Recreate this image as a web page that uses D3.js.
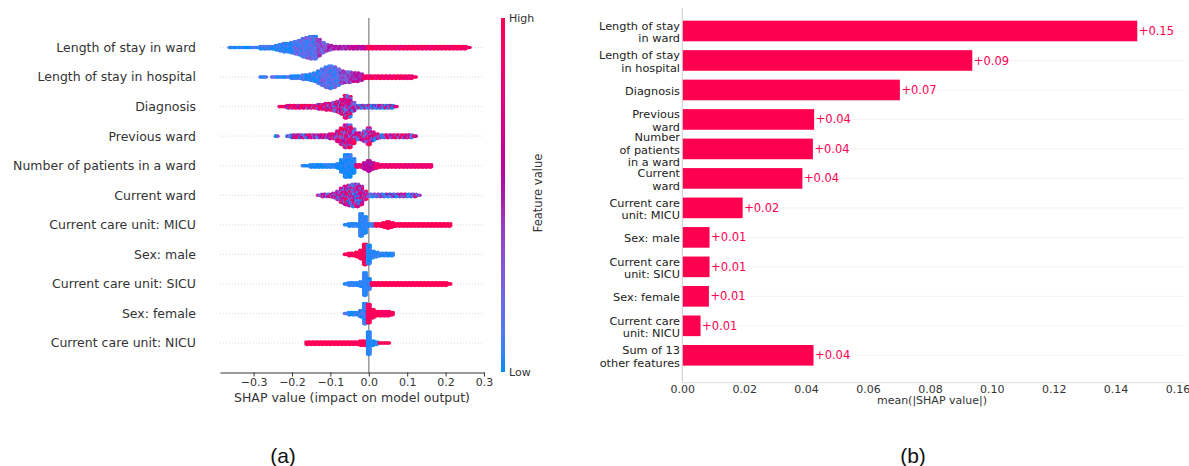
<!DOCTYPE html>
<html>
<head>
<meta charset="utf-8">
<script src="https://cdn.jsdelivr.net/npm/d3@7"></script>
<style>
  body { margin: 0; background: #fff; }
  text { font-family: "DejaVu Sans", sans-serif; }
</style>
</head>
<body>
<div id="chart"></div>
<script>
// ---- (a) beeswarm summary: features top to bottom
var features = ["Length of stay in ward", "Length of stay in hospital", "Diagnosis",
  "Previous ward", "Number of patients in a ward", "Current ward",
  "Current care unit: MICU", "Sex: male", "Current care unit: SICU",
  "Sex: female", "Current care unit: NICU"];

// SHAP values are binned at 0.01; each row lists how many points sit in each bin
var binStep = 0.01;
var binStart = [-0.36, -0.28, -0.23, -0.24, -0.17, -0.13, -0.06, -0.06, -0.06, -0.06, -0.16];
var binCounts = [
  [1,1,1,1,1,1,1,1, 2,2,2,2, 3,4,5,5,6,7,8,10,11,12,12, 9,6,4,3,2,
   2,2,2,2,2,2,2,2,2,2,2,2,2,2,2,2,2,2,2,2,2,2,2,2,2,2,2,2,2,2,2,2,2,2, 1],
  [1,1,0,1,1,1,1,1, 2,2,2, 3,3, 4,5,7,9,11,12,11,9,7, 6,6,5,5,4,2,
   2,2,2,2,2,2,2,2,2,2,2,2, 1],
  [1,1,2,2,2,2,2,2,2,2, 3,3,4,4,5,6,8,12,11,5, 2,2,2,2,2,2,2,2,2,2, 1],
  [1,0,0,1, 2,2,2,2,2,2,2,2,2,2, 3,3,6,9,12,12,8,4,4,6,9,5,3, 2,2,2,2,2,2,2,2,2, 1],
  [1,1, 2,2,2,2,2,2,2, 3,7,12,12,8,2,2,4,6,4,3, 2,2,2,2,2,2,2,2,2,2,2,2,2,2],
  [1,2,2,2,3,5,8,10,11,12,12,10,5,2, 2,2,2,2,2,2,2,2,2,2,2,2, 1],
  [1,2,2,2,12,9,2,2,2,2,3,4,3, 2,2,2,2,2,2,2,2,2,2,2,2,2,2,2],
  [1,2,2,3,5,11,10,4,3,2,2,2,2],
  [1,2,2,2,3,12,6, 2,2,2,2,2,2,2,2,2,2,2,2,2,2,2,2,2,2,2,2, 1],
  [1,2,2,2,4,11,10,5,3,3,3,3,2],
  [2,2,2,2,2,2,2,2,2,2,2,2,2,2,3,3, 12,3,2,1,1,1]
];
// mean feature value (0 = low, 1 = high) of the points in each bin
var binFeature = [
  [0.03,0.03,0.03,0.03,0.03,0.03,0.03,0.03,0.03,0.03,0.03,0.03,0.03,0.03,0.03,0.03,0.03,
   0.15,0.15,0.15,0.15,0.15,0.15, 0.3,0.3,0.3, 0.45,0.45,0.45,0.45,0.45,
   0.62,0.62,0.62,0.62,0.62,
   0.93,0.93,0.93,0.93,0.93,0.93,0.93,0.93,0.93,0.93,0.93,0.93,0.93,0.93,
   0.93,0.93,0.93,0.93,0.93,0.93,0.93,0.93,0.93,0.93,0.93,0.93,0.93,0.93],
  [0.04,0.04,0.04,0.04,0.04,0.04,0.04,0.04,0.04,0.04,0.04,0.04,0.04,0.04,0.04,0.04,
   0.15,0.15,0.15,0.15,0.15, 0.35,0.35,0.35, 0.5,0.5,0.5,
   0.88,0.88,0.88,0.88,0.88,0.88,0.88,0.88,0.88,0.88,0.88,0.88,0.88,0.88],
  [0.95,0.95,0.95,0.95,0.95,0.95,0.95, 0.8,0.8,0.8,0.8,0.8,0.8,
   0.6,0.6,0.6,0.6,0.6,0.6,
   0.3,0.3,0.3,0.3,0.3,0.3,0.3,0.3,0.3,0.3,0.3,0.3],
  [0.1,0.1,0.1,0.1, 0.45,0.45,0.45,0.45,0.45,0.45,0.45,0.45,0.45,0.45,
   0.65,0.65,0.65,0.65,0.65,0.65,0.65, 0.6,0.6, 0.55,0.55,0.55,0.55,
   0.5,0.5,0.5,0.5,0.5,0.5,0.5,0.5,0.5,0.5],
  [0.02,0.02,0.02,0.02,0.02,0.02,0.02,0.02,0.02,0.02,0.02,0.02,0.02,0.02,
   0.8,0.8, 0.55,0.55,0.55,
   0.85,0.85,0.85,0.85,0.85,0.85,0.85,0.85,0.85,0.85,0.85,0.85,0.85,0.85,0.85],
  [0.5,0.5,0.5,0.5,0.5,0.5,0.5,0.5,0.5,0.5,0.5,0.5,0.5,
   0.35,0.35,0.35,0.35,0.35,0.35,0.35,0.35,0.35,0.35,0.35,0.35,0.35,0.35],
  [0.04,0.04,0.04,0.04,0.04,0.04,0.04,0.04,
   0.97,0.97,0.97,0.97,0.97,0.97,0.97,0.97,0.97,0.97,0.97,0.97,0.97,0.97,0.97,0.97,0.97,0.97,0.97,0.97],
  [0.96,0.96,0.96,0.96,0.96,0.96, 0.04,0.04,0.04,0.04,0.04,0.04,0.04],
  [0.04,0.04,0.04,0.04,0.04,0.04,0.04,
   0.97,0.97,0.97,0.97,0.97,0.97,0.97,0.97,0.97,0.97,0.97,0.97,0.97,0.97,0.97,0.97,0.97,0.97,0.97,0.97,0.97],
  [0.06,0.06,0.06,0.06,0.06,0.06, 0.96,0.96,0.96,0.96,0.96,0.96,0.96],
  [0.97,0.97,0.97,0.97,0.97,0.97,0.97,0.97,0.97,0.97,0.97,0.97,0.97,0.97,0.97,0.97,
   0.03,0.03,0.03, 0.97,0.97,0.97]
];
// how mixed low/high points are within a row
var binMix = [0.18, 0.18, 0.6, 0.6, 0.08, 0.55, 0.04, 0.06, 0.04, 0.12, 0.04];
var xTicksA = [-0.3, -0.2, -0.1, 0, 0.1, 0.2, 0.3];

// ---- (b) mean |SHAP| bars
var barLabels = ["Length of stay\nin ward", "Length of stay\nin hospital", "Diagnosis",
  "Previous\nward", "Number\nof patients\nin a ward", "Current\nward",
  "Current care\nunit: MICU", "Sex: male", "Current care\nunit: SICU",
  "Sex: female", "Current care\nunit: NICU", "Sum of 13\nother features"];
var barValues = [0.147, 0.0937, 0.0703, 0.0426, 0.0422, 0.0388, 0.0195, 0.0088, 0.0088, 0.0086, 0.0059, 0.0424];
var xTicksB = [0, 0.02, 0.04, 0.06, 0.08, 0.10, 0.12, 0.14, 0.16];

var width = 1189, height = 466;
var svg = d3.select("#chart").append("svg")
    .attr("width", width)
    .attr("height", height)
    .style("background", "#fff");

// shap-like red/blue colormap, dipping in lightness through purple
var cLow = d3.hcl("#008bfb"), cHigh = d3.hcl("#ff0051");
function shapColor(t) {
    t = Math.max(0, Math.min(1, t));
    var h0 = cLow.h, h1 = cHigh.h;
    if (h1 < h0) h1 += 360;
    var l = cLow.l + (cHigh.l - cLow.l) * t - 15 * (1 - Math.abs(2 * t - 1));
    return d3.hcl(h0 + (h1 - h0) * t, cLow.c + (cHigh.c - cLow.c) * t, l).formatHex();
}

// fixed integer hash, used only to scatter low/high points inside a mixed bin
function scatter(a, b, c, d) {
    var x = Math.imul(a, 374761393) ^ Math.imul(b, 668265263) ^ Math.imul(c, 1274126177) ^ Math.imul(d, 2246822519);
    x = Math.imul(x ^ (x >>> 13), 1103515245);
    x = x ^ (x >>> 16);
    return ((x >>> 0) % 1001) / 500 - 1;
}

// ================= (a) =================
var xa = d3.scaleLinear().domain([-0.3875, 0.3]).range([220, 484]);
var ya = d3.scalePoint().domain(features).range([47.5, 343]);
var gA = svg.append("g");

gA.selectAll("line.grid")
    .data(features)
    .enter()
    .append("line")
    .attr("x1", 220).attr("x2", 484)
    .attr("y1", function(d){ return ya(d); })
    .attr("y2", function(d){ return ya(d); })
    .attr("stroke", "#cfcfcf")
    .attr("stroke-width", 0.8)
    .attr("stroke-dasharray", "1,2");

gA.append("line")
    .attr("x1", xa(0)).attr("x2", xa(0))
    .attr("y1", 18).attr("y2", 372.5)
    .attr("stroke", "#999")
    .attr("stroke-width", 1.5);

// lay out the binned points as stacked dots (beeswarm style)
var dots = [];
features.forEach(function(f, r) {
    var cy = ya(f);
    binCounts[r].forEach(function(n, i) {
        var v = Math.round((binStart[r] + i * binStep) * 1000) / 1000;
        for (var j = 0; j < 3; j++) {
            for (var k = 0; k < n; k++) {
                dots.push({
                    x: xa(v) + (j - 1) * 1.3,
                    y: cy + (k - (n - 1) / 2) * 2 + (j === 1 && n > 1 ? 0.5 : 0),
                    t: binFeature[r][i] + binMix[r] * scatter(r + 1, i + 1, j + 1, k + 1)
                });
            }
        }
    });
});

gA.append("g").selectAll("circle")
    .data(dots)
    .enter()
    .append("circle")
    .attr("cx", function(d){ return d.x; })
    .attr("cy", function(d){ return d.y; })
    .attr("r", 1.8)
    .attr("fill", function(d){ return shapColor(d.t); });

gA.selectAll("text.feat")
    .data(features)
    .enter()
    .append("text")
    .attr("x", 196)
    .attr("y", function(d){ return ya(d); })
    .attr("dy", "0.35em")
    .attr("text-anchor", "end")
    .attr("fill", "#333")
    .style("font-size", "12.5px")
    .text(function(d){ return d; });

var axA = gA.append("g")
    .attr("transform", "translate(0,372.5)")
    .call(d3.axisBottom(xa)
        .tickValues(xTicksA)
        .tickSize(4)
        .tickSizeOuter(0)
        .tickPadding(2)
        .tickFormat(function(d){ return d3.format(".1f")(d).replace("-", "\u2212"); }));
axA.select(".domain").attr("stroke", "#333");
axA.selectAll(".tick line").attr("stroke", "#333");
axA.selectAll("text").attr("fill", "#333").style("font-size", "11px")
    .style("font-family", "DejaVu Sans, sans-serif");

gA.append("text")
    .attr("x", 352).attr("y", 402)
    .attr("text-anchor", "middle")
    .attr("fill", "#333")
    .style("font-size", "12.5px")
    .text("SHAP value (impact on model output)");

// colorbar
var grad = svg.append("defs").append("linearGradient")
    .attr("id", "cbar")
    .attr("x1", 0).attr("y1", 1).attr("x2", 0).attr("y2", 0);
grad.selectAll("stop")
    .data(d3.range(0, 1.0001, 0.05))
    .enter()
    .append("stop")
    .attr("offset", function(d){ return d; })
    .attr("stop-color", function(d){ return shapColor(d); });

gA.append("rect")
    .attr("x", 501).attr("y", 18)
    .attr("width", 4).attr("height", 354)
    .attr("fill", "url(#cbar)");
gA.append("text").attr("x", 509).attr("y", 18).attr("dy", "0.35em")
    .attr("fill", "#333").style("font-size", "11px").text("High");
gA.append("text").attr("x", 509).attr("y", 372).attr("dy", "0.35em")
    .attr("fill", "#333").style("font-size", "11px").text("Low");
gA.append("text")
    .attr("transform", "translate(538,193) rotate(-90)")
    .attr("dy", "0.35em")
    .attr("text-anchor", "middle")
    .attr("fill", "#333")
    .style("font-size", "11.5px")
    .text("Feature value");

// ================= (b) =================
var xb = d3.scaleLinear().domain([0, 0.16]).range([682.3, 1177.5]);
var yb = d3.scaleBand().domain(barLabels).range([16.26, 370.04])
    .paddingInner(0.3).paddingOuter(0.15);
var gB = svg.append("g");

gB.selectAll("line.grid")
    .data(barLabels)
    .enter()
    .append("line")
    .attr("x1", 682).attr("x2", 1186)
    .attr("y1", function(d){ return yb(d) + yb.bandwidth() / 2; })
    .attr("y2", function(d){ return yb(d) + yb.bandwidth() / 2; })
    .attr("stroke", "#eeeeee")
    .attr("stroke-width", 1)
    .attr("stroke-dasharray", "3,1");

gB.selectAll("rect.bar")
    .data(barValues)
    .enter()
    .append("rect")
    .attr("x", xb(0))
    .attr("y", function(d, i){ return yb(barLabels[i]); })
    .attr("width", function(d){ return xb(d) - xb(0); })
    .attr("height", yb.bandwidth())
    .attr("fill", "#ff0051");

gB.selectAll("text.val")
    .data(barValues)
    .enter()
    .append("text")
    .attr("x", function(d){ return xb(d) + 1.5; })
    .attr("y", function(d, i){ return yb(barLabels[i]) + yb.bandwidth() / 2; })
    .attr("dy", "0.35em")
    .attr("fill", "#ff0051")
    .style("font-size", "11.5px")
    .text(function(d){ return "+" + d3.format(".2f")(d); });

var lab = gB.selectAll("text.lab")
    .data(barLabels)
    .enter()
    .append("text")
    .attr("text-anchor", "end")
    .attr("fill", "#222")
    .style("font-size", "11.3px");
lab.each(function(d) {
    var lines = d.split("\n");
    var cy = yb(d) + yb.bandwidth() / 2 + 1;
    d3.select(this).selectAll("tspan")
        .data(lines)
        .enter()
        .append("tspan")
        .attr("x", 680)
        .attr("y", function(t, i){ return cy + (i - (lines.length - 1) / 2) * 12.5; })
        .attr("dy", "0.35em")
        .text(function(t){ return t; });
});

gB.append("line")
    .attr("x1", 682.3).attr("x2", 682.3)
    .attr("y1", 8).attr("y2", 382.7)
    .attr("stroke", "#cccccc");

var axB = gB.append("g")
    .attr("transform", "translate(0,382.7)")
    .call(d3.axisBottom(xb)
        .tickValues(xTicksB)
        .tickSize(0)
        .tickPadding(2)
        .tickFormat(d3.format(".2f")));
axB.select(".domain").attr("stroke", "#dddddd").attr("d", "M682.3,0H1186");
axB.selectAll("text").attr("fill", "#333").style("font-size", "11px")
    .style("font-family", "DejaVu Sans, sans-serif");

gB.append("text")
    .attr("x", 932).attr("y", 404)
    .attr("text-anchor", "middle")
    .attr("fill", "#333")
    .style("font-size", "11px")
    .text("mean(|SHAP value|)");

// panel letters
svg.append("text").attr("x", 283).attr("y", 463)
    .attr("text-anchor", "middle")
    .style("font-family", "Liberation Sans, Arial, sans-serif")
    .style("font-size", "21px").attr("fill", "#111").text("(a)");
svg.append("text").attr("x", 913).attr("y", 463)
    .attr("text-anchor", "middle")
    .style("font-family", "Liberation Sans, Arial, sans-serif")
    .style("font-size", "21px").attr("fill", "#111").text("(b)");
</script>
</body>
</html>
